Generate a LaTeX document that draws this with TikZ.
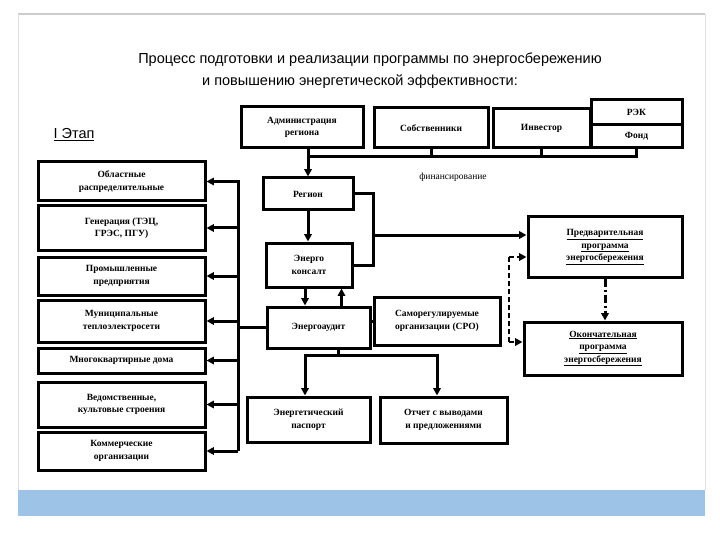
\documentclass[tikz,border=0pt]{standalone}
\usepackage{fontspec}
\setmainfont{Liberation Serif}
\newfontfamily\titlefont{Liberation Sans}
\usetikzlibrary{arrows.meta, positioning, calc}
\definecolor{barblue}{RGB}{157,195,230}
\begin{document}
\begin{tikzpicture}[
    x=1pt, y=-1pt,
    box/.style={rectangle, draw, line width=3pt, align=center, inner sep=1pt, font=\fontsize{9.5}{12.5}\selectfont\bfseries},
    line/.style={line width=3pt},
    arrow/.style={line width=3pt, -{Triangle[length=2.6mm, width=2.6mm]}},
    dasharrow/.style={arrow, line width=2pt, dash pattern=on 5pt off 3pt}
]
\useasboundingbox (0,0) rectangle (720,540);

% Frame
\fill[barblue] (18,490) rectangle (705,516);
\draw[gray!40, line width=1.5pt] (18,14) -- (705,14);
\draw[gray!25] (18,14) -- (18,490) (705,14) -- (705,490);

% Title
\node[font=\titlefont\fontsize{14.5}{17}\selectfont] (title) at (370,60) {Процесс подготовки и реализации программы по энергосбережению};
\node[font=\titlefont\fontsize{14.5}{17}\selectfont] (title2) at (360,82) {и повышению энергетической эффективности:};
\node[font=\titlefont\fontsize{14.5}{17}\selectfont, anchor=west] (stage) at (50,135) {\underline{I Этап}};

% Left column
\node[box, minimum width=167, minimum height=39] (b1) at (121.5,181.5) {Областные\\распределительные};
\node[box, minimum width=167, minimum height=44] (b2) at (121.5,228) {Генерация (ТЭЦ,\\ГРЭС, ПГУ)};
\node[box, minimum width=167, minimum height=38] (b3) at (121.5,276) {Промышленные\\предприятия};
\node[box, minimum width=167, minimum height=42] (b4) at (121.5,321) {Муниципальные\\теплоэлектросети};
\node[box, minimum width=167, minimum height=25] (b5) at (121.5,360.5) {Многоквартирные дома};
\node[box, minimum width=167, minimum height=45] (b6) at (121.5,404.5) {Ведомственные,\\культовые строения};
\node[box, minimum width=167, minimum height=38] (b7) at (121.5,451) {Коммерческие\\организации};

% Middle column
\node[box, minimum width=122, minimum height=41] (adm) at (302,127.5) {Администрация\\региона};
\node[box, minimum width=90, minimum height=32] (reg) at (308,194) {Регион};
\node[box, minimum width=86, minimum height=44] (kons) at (309,265) {Энерго\\консалт};
\node[box, minimum width=103, minimum height=41] (audit) at (318.5,327.5) {Энергоаудит};
\node[box, minimum width=123, minimum height=45] (pasp) at (308.5,419.5) {Энергетический\\паспорт};

% Top row
\node[box, minimum width=114, minimum height=40] (sob) at (431,128) {Собственники};
\node[box, minimum width=97, minimum height=39] (inv) at (541.5,128.5) {Инвестор};
\node[box, minimum width=91, minimum height=25] (rek) at (636.5,112.5) {РЭК};
\node[box, minimum width=91, minimum height=23] (fond) at (636.5,136.5) {Фонд};
\node[font=\fontsize{9.5}{12}\selectfont] (fin) at (453,177) {финансирование};

% Right part
\node[box, minimum width=126, minimum height=48] (sro) at (437,321) {Саморегулируемые\\организации (СРО)};
\node[box, minimum width=127, minimum height=46] (otch) at (443.5,420) {Отчет с выводами\\и предложениями};
\node[box, minimum width=154, minimum height=60] (pred) at (605,247) {\underline{Предварительная}\\\underline{программа}\\\underline{энергосбережения}};
\node[box, minimum width=158, minimum height=53] (okon) at (603,348.5) {\underline{Окончательная}\\\underline{программа}\\\underline{энергосбережения}};

% Helper points
\coordinate (finbus) at (308,157);
\coordinate (busT) at (238,180);
\coordinate (busB) at (238,451);
\coordinate (rbT) at (373,194);
\coordinate (rbM) at (373,235);
\coordinate (rbB) at (373,265);
\coordinate (dT) at (509,257);
\coordinate (dB) at (509,342);
\coordinate (ab) at (338,355);

% Financing
\draw[line] (fond.south) |- (finbus);
\draw[line] (sob.south) -- (sob.south |- finbus);
\draw[line] (inv.south) -- (inv.south |- finbus);

% Middle chain
\draw[arrow] (adm.south -| reg.north) -- (reg.north);
\draw[arrow] (reg.south) -- (reg.south |- kons.north);
\draw[arrow] ([xshift=-4]kons.south) -- ([xshift=-4]kons.south |- audit.north);
\draw[arrow] ([xshift=23]audit.north) -- ([xshift=23]audit.north |- kons.south);

% Bus to left column
\draw[line] (busT) -- (busB);
\foreach \b in {b1,b2,b3,b4,b5,b6,b7}
    \draw[arrow] (busT |- \b.east) -- (\b.east);
\draw[line] (busT |- audit.west) -- (audit.west);

% Region / consult to preliminary programme
\draw[line] (reg.east) -- (rbT) -- (rbB) -- (kons.east);
\draw[arrow] (rbM) -- (rbM -| pred.west);

% SRO and programmes
\draw[line, line width=2pt, dash pattern=on 5pt off 3pt] (dT) -- (dB);
\draw[dasharrow] (dT) -- (dT -| pred.west);
\draw[dasharrow] (dB) -- (dB -| okon.west);
\draw[line] (sro.west -| audit.east) -- (sro.west);
\draw[arrow, dash pattern=on 8pt off 3pt on 2pt off 3pt] (pred.south) -- (pred.south |- okon.north);

% Audit results
\draw[line] ([xshift=19.5]audit.south) -- (ab);
\draw[arrow] (ab) -| ([xshift=-3.5]pasp.north);
\draw[arrow] (ab) -| ([xshift=-6.5]otch.north);
\end{tikzpicture}
\end{document}
